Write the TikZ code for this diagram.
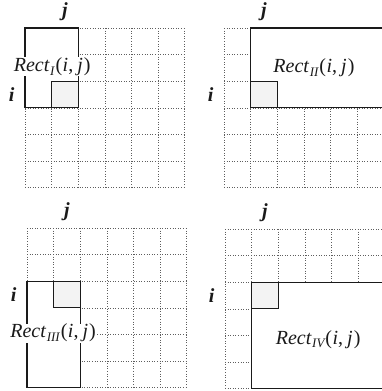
\documentclass[tikz,border=0pt]{standalone}
\usepackage{fontspec}
\setmainfont{Liberation Serif}
\usetikzlibrary{positioning}
\definecolor{ink}{HTML}{1A1A1A}
\definecolor{dots}{HTML}{5E5E5E}
\definecolor{cellfill}{HTML}{F3F3F3}
\newcommand{\rectname}[1]{\textit{Rect}\hspace{0.5pt}\raisebox{-0.4ex}{\fontsize{13}{13}\selectfont\itshape #1}\hspace{1pt}(\hspace{0.5pt}\textit{i},\hspace{4pt}\textit{j}\hspace{1pt})}
\tikzset{
  gridline/.style={draw=dots, line width=0.6pt, dotted},
  region/.style={draw=ink, line width=1.1pt, fill=white},
  seedcell/.style={draw=ink, line width=1.1pt, fill=cellfill},
  idx/.style={font=\fontsize{20}{20}\selectfont\bfseries\itshape, text=ink, inner sep=0pt},
  rectlabel/.style={font=\fontsize{20}{22}\selectfont, text=ink, fill=white, inner sep=0.5pt}
}

\begin{document}
\begin{tikzpicture}[x=26.6pt,y=-26.6pt]
\useasboundingbox (0pt,0pt) rectangle (382pt,-391pt);
\clip (0pt,0pt) rectangle (382pt,-391pt);

% Rect I: up and to the left
\begin{scope}[shift={(25pt,-28pt)}]
\foreach \k in {0,...,6} {\draw[gridline] (\k,0) -- (\k,6); \draw[gridline] (0,\k) -- (6,\k);}
\draw[region] (0,0) rectangle (2,3);
\draw[seedcell] (1,2) rectangle (2,3);
\node[idx] (j1) at (1.5,-0.6) {j};
\node[idx] (i1) at (-0.5,2.5) {i};
\node[rectlabel] (r1) at (1.02,1.45) {\rectname{I}};
\end{scope}

% Rect II: up and to the right
\begin{scope}[shift={(224pt,-28pt)}]
\foreach \k in {0,...,6} {\draw[gridline] (\k,0) -- (\k,6); \draw[gridline] (0,\k) -- (6,\k);}
\draw[region] (1,0) rectangle (6.5,3);
\draw[seedcell] (1,2) rectangle (2,3);
\node[idx] (j2) at (1.5,-0.6) {j};
\node[idx] (i2) at (-0.5,2.5) {i};
\node[rectlabel] (r2) at (3.38,1.5) {\rectname{II}};
\end{scope}

% Rect III: down and to the left
\begin{scope}[shift={(27pt,-228pt)}]
\foreach \k in {0,...,6} {\draw[gridline] (\k,0) -- (\k,6); \draw[gridline] (0,\k) -- (6,\k);}
\draw[region] (0,2) rectangle (2,6);
\draw[seedcell] (1,2) rectangle (2,3);
\node[idx] (j3) at (1.5,-0.6) {j};
\node[idx] (i3) at (-0.5,2.5) {i};
\node[rectlabel] (r3) at (0.98,3.95) {\rectname{III}};
\end{scope}

% Rect IV: down and to the right
\begin{scope}[shift={(225pt,-229pt)}]
\foreach \k in {0,...,6} {\draw[gridline] (\k,0) -- (\k,6); \draw[gridline] (0,\k) -- (6,\k);}
\draw[region] (1,2) rectangle (6.5,6);
\draw[seedcell] (1,2) rectangle (2,3);
\node[idx] (j4) at (1.5,-0.6) {j};
\node[idx] (i4) at (-0.5,2.5) {i};
\node[rectlabel] (r4) at (3.5,4.15) {\rectname{IV}};
\end{scope}
\end{tikzpicture}
\end{document}
